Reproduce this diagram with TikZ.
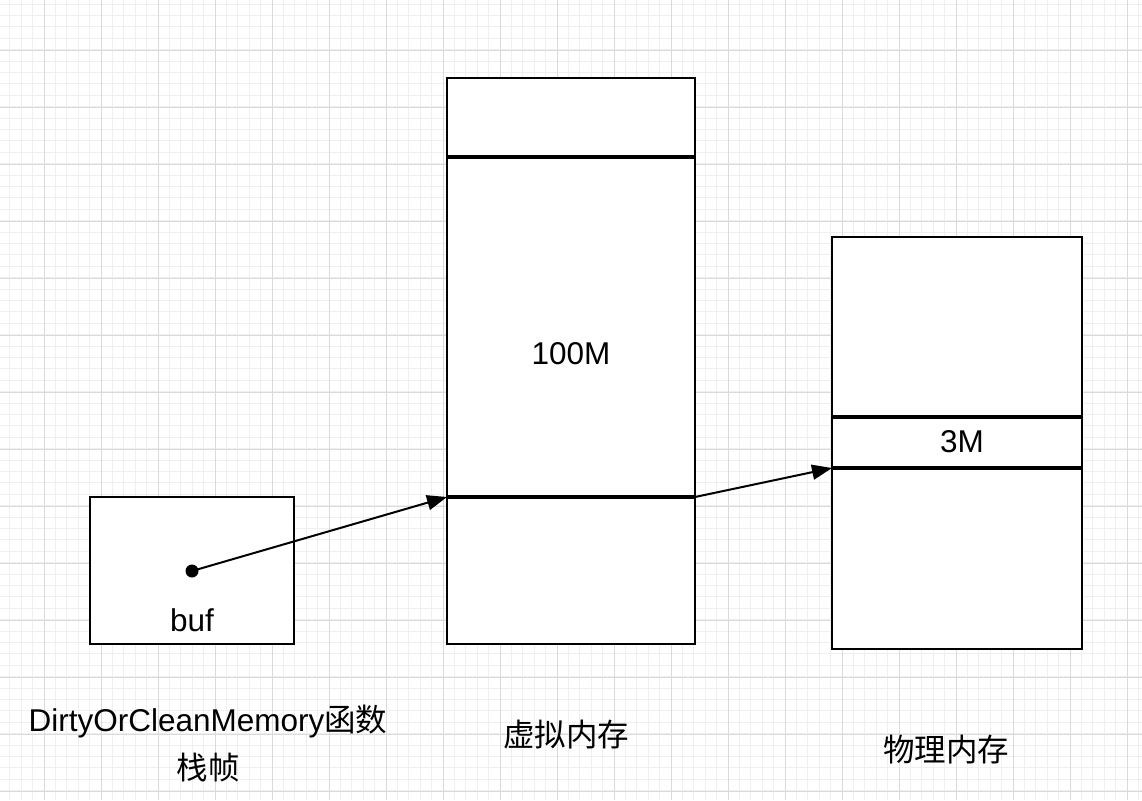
\documentclass[tikz,border=0pt]{standalone}
\usepackage{fontspec}
\setmainfont{Liberation Sans}
\newfontfamily\cjk{Noto Sans CJK SC}
\usetikzlibrary{arrows.meta}
\definecolor{gminor}{HTML}{EFEFEF}
\definecolor{gmajor}{HTML}{DADADA}
\begin{document}
\begin{tikzpicture}[x=1pt,y=-1pt,
  box/.style={draw=black,line width=2.3pt,fill=white},
  sep/.style={draw=black,line width=3.4pt},
  lbl/.style={font=\fontsize{31.5}{38}\selectfont,inner sep=0pt,align=center},
  ptr/.style={draw=black,line width=2pt,-{Triangle[length=20pt,width=15pt]}}]
\useasboundingbox (0,0) rectangle (1142,800);
\fill[white] (0,0) rectangle (1142,800);
% grid
\foreach \i in {0,...,100} {
  \pgfmathsetmacro\xx{-1.6+11.4*\i}
  \ifdim\xx pt<1142pt \draw[gminor,line width=0.7pt] (\xx,0) -- (\xx,800);\fi
  \ifdim\xx pt<800pt \draw[gminor,line width=0.7pt] (0,\xx+5.6) -- (1142,\xx+5.6);\fi
}
\foreach \i in {0,...,20} {
  \pgfmathsetmacro\xx{-12.6+57*\i}
  \draw[gmajor,line width=0.9pt] (\xx+57,0) -- (\xx+57,800);
  \draw[gmajor,line width=0.9pt] (0,\xx+62.6-57) -- (1142,\xx+62.6-57);
}
% stack frame
\path[box] (90,497) rectangle (294,644);
\coordinate (sfc) at (192,571);
\fill[black] (sfc) circle (6.5);
\node[lbl] (buf) at (192,620) {buf};
% virtual memory
\path[box] (447,78) rectangle (695,644);
\draw[sep] (447,157) -- (695,157);
\coordinate (vl) at (447,497);
\coordinate (vr) at (695,497);
\draw[sep] (vl) -- (vr);
\node[lbl] (v100) at (571,354) {100M};
% physical memory
\path[box] (832,237) rectangle (1082,649);
\draw[sep] (832,417) -- (1082,417);
\coordinate (pl) at (832,468);
\draw[sep] (pl) -- (1082,468);
\node[lbl] (p3) at (962,442) {3M};
% arrows
\draw[ptr] (sfc) -- (vl);
\draw[ptr] (vr) -- (pl);
% labels
\node[lbl] (l1) at (208,722) {DirtyOrCleanMemory{\cjk 函数}};
\node[lbl] (l2) at (208,768) {\cjk 栈帧};
\node[lbl] (l3) at (566,735) {\cjk 虚拟内存};
\node[lbl] (l4) at (946,750) {\cjk 物理内存};
\end{tikzpicture}
\end{document}
